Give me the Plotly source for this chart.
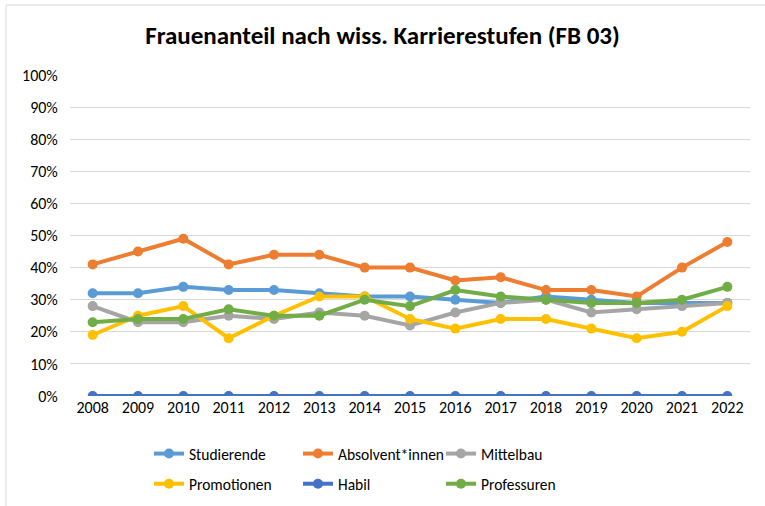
import plotly.graph_objects as go

years = list(range(2008, 2023))
studierende = [32, 32, 34, 33, 33, 32, 31, 31, 30, 29, 31, 30, 29, 29, 29]
absolvent = [41, 45, 49, 41, 44, 44, 40, 40, 36, 37, 33, 33, 31, 40, 48]
mittelbau = [28, 23, 23, 25, 24, 26, 25, 22, 26, 29, 30, 26, 27, 28, 29]
promotionen = [19, 25, 28, 18, 25, 31, 31, 24, 21, 24, 24, 21, 18, 20, 28]
habil = [0] * 15
professuren = [23, 24, 24, 27, 25, 25, 30, 28, 33, 31, 30, 29, 29, 30, 34]

series = [
    ("Studierende", studierende, "#5B9BD5", "legend"),
    ("Absolvent*innen", absolvent, "#ED7D31", "legend2"),
    ("Mittelbau", mittelbau, "#A5A5A5", "legend3"),
    ("Promotionen", promotionen, "#FFC000", "legend"),
    ("Habil", habil, "#4472C4", "legend2"),
    ("Professuren", professuren, "#70AD47", "legend3"),
]

FONT = "Calibri, Carlito, 'Noto Sans', sans-serif"

fig = go.Figure()
for name, vals, color, lg in series:
    fig.add_trace(go.Scatter(
        x=years, y=[v / 100 for v in vals], name=name, mode="lines+markers",
        line=dict(color=color, width=4), marker=dict(color=color, size=10),
        legend=lg, legendgroup=name,
    ))

legend_common = dict(orientation="v", xanchor="left", xref="paper",
                     yanchor="middle", yref="container", y=1 - 469 / 506,
                     font=dict(family=FONT, size=15.5, color="#000000"),
                     bgcolor="rgba(0,0,0,0)", tracegroupgap=7, itemwidth=30)

fig.update_layout(
    width=765, height=506,
    margin=dict(l=70, r=15, t=75, b=110),
    paper_bgcolor="white", plot_bgcolor="white",
    font=dict(family=FONT, size=16, color="#000000"),
    title=dict(text="<b>Frauenanteil nach wiss. Karrierestufen (FB 03)</b>",
               x=0.5, xanchor="center", y=1 - 35 / 506, yanchor="middle",
               font=dict(family=FONT, size=25, color="#000000")),
    xaxis=dict(range=[2007.5, 2022.5], tickmode="array", tickvals=years,
               ticktext=[str(y) for y in years], showgrid=False, zeroline=False,
               showline=False, ticks="", ticklen=0,
               tickfont=dict(family=FONT, size=16, color="#000000")),
    yaxis=dict(range=[0, 1.0], tickformat=".0%", dtick=0.1, showgrid=True,
               gridcolor="#D9D9D9", gridwidth=1, zeroline=False, showline=False,
               ticks="outside", ticklen=8, tickcolor="rgba(0,0,0,0)",
               tickfont=dict(family=FONT, size=16, color="#000000")),
    legend=dict(**legend_common, x=(149 - 70) / 680),
    legend2=dict(**legend_common, x=(298 - 70) / 680),
    legend3=dict(**legend_common, x=(441 - 70) / 680),
    shapes=[dict(type="rect", xref="paper", yref="paper",
                 x0=(6 - 70) / 680, x1=(780 - 70) / 680,
                 y0=(396 - 520) / 321, y1=(396 - 5) / 321,
                 line=dict(color="#D9D9D9", width=1), fillcolor="rgba(0,0,0,0)",
                 layer="below")],
)
fig.write_html("out.html", config={"displayModeBar": False},
               post_script="document.body.style.margin='0px';")
